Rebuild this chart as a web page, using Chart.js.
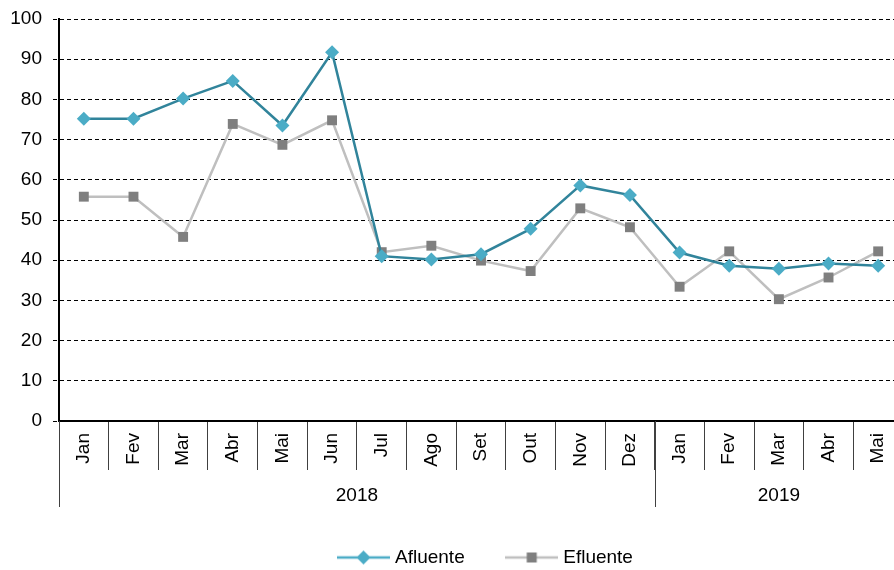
<!DOCTYPE html>
<html lang="pt-BR">
<head>
<meta charset="utf-8">
<title>Afluente x Efluente</title>
<script src="https://cdn.jsdelivr.net/npm/chart.js@4/dist/chart.umd.min.js"></script>
<style>
    html, body { margin: 0; padding: 0; background: #ffffff; overflow: hidden; }
    #wrap { width: 894px; height: 570px; overflow: hidden; position: relative; }
    #grafico { position: absolute; left: 0; top: 0; }
</style>
</head>
<body>
<div id="wrap">
    <canvas id="grafico" width="910" height="577"></canvas>
</div>
<script>
(function() {
    'use strict';

    // Meses (jan/2018 a mai/2019)
    var meses = ['Jan', 'Fev', 'Mar', 'Abr', 'Mai', 'Jun', 'Jul', 'Ago', 'Set', 'Out', 'Nov', 'Dez',
                 'Jan', 'Fev', 'Mar', 'Abr', 'Mai'];

    // Agrupamento por ano
    var anos = ['2018', '2019'];
    var mesesPorAno = [12, 5];

    var afluente = [75.2, 75.2, 80.2, 84.6, 73.5, 91.7, 41.0, 40.2, 41.5, 47.8, 58.6, 56.2,
                    41.9, 38.6, 37.9, 39.2, 38.6];
    var efluente = [55.8, 55.8, 45.8, 73.9, 68.7, 74.8, 42.0, 43.6, 39.9, 37.3, 52.9, 48.2,
                    33.4, 42.2, 30.3, 35.7, 42.2];

    var yTicks = { min: 0, max: 100, step: 10 };

    var corAfluenteLinha = '#31849b';
    var corAfluentePonto = '#4bacc6';
    var corEfluenteLinha = '#bfbfbf';
    var corEfluentePonto = '#7f7f7f';

    var fonte = '"Liberation Sans", Arial, sans-serif';
    var tamFonte = 19;

    // Início (x) da primeira amostra da legenda
    var legendaInicioX = 341.5;

    Chart.defaults.font.family = fonte;
    Chart.defaults.font.size = tamFonte;
    Chart.defaults.color = '#000000';

    /**
     * Desenha a amostra da legenda (linha com o marcador no meio)
     */
    function amostraLegenda(corLinha, corPonto, estilo) {
        var c = document.createElement('canvas');
        c.width = 53;
        c.height = 18;
        var ctx = c.getContext('2d');
        ctx.strokeStyle = corLinha;
        ctx.lineWidth = 2.5;
        ctx.beginPath();
        ctx.moveTo(0, 9);
        ctx.lineTo(53, 9);
        ctx.stroke();
        ctx.fillStyle = corPonto;
        if (estilo === 'rectRot') {
            ctx.beginPath();
            ctx.moveTo(26.5, 2);
            ctx.lineTo(33.5, 9);
            ctx.lineTo(26.5, 16);
            ctx.lineTo(19.5, 9);
            ctx.closePath();
            ctx.fill();
        } else {
            ctx.fillRect(21.5, 4, 10, 10);
        }
        return c;
    }

    var amostras = [
        amostraLegenda(corAfluentePonto, corAfluentePonto, 'rectRot'),
        amostraLegenda(corEfluenteLinha, corEfluentePonto, 'rect')
    ];

    // Rótulos dos anos e linhas separadoras abaixo do eixo X
    var gruposAnos = {
        id: 'gruposAnos',
        afterDraw: function(chart) {
            var x = chart.scales.x;
            var ctx = chart.ctx;
            var meia = (x.getPixelForValue(1) - x.getPixelForValue(0)) / 2;
            var yTopo = x.top;
            var yFim = x.top + 86;
            var inicio = 0;
            ctx.save();
            ctx.strokeStyle = '#404040';
            ctx.lineWidth = 1;
            ctx.fillStyle = '#000000';
            ctx.font = tamFonte + 'px ' + fonte;
            ctx.textAlign = 'center';
            ctx.textBaseline = 'middle';
            for (var g = 0; g < anos.length; g++) {
                var xIni = x.getPixelForValue(inicio) - meia;
                var xFim = x.getPixelForValue(inicio + mesesPorAno[g] - 1) + meia;
                ctx.beginPath();
                ctx.moveTo(Math.round(xIni) + 0.5, yTopo);
                ctx.lineTo(Math.round(xIni) + 0.5, yFim);
                ctx.stroke();
                ctx.fillText(anos[g], (xIni + xFim) / 2, x.top + 75);
                inicio += mesesPorAno[g];
            }
            ctx.restore();
        }
    };

    // Desloca a legenda para a posição usada no relatório
    var ajusteLegenda = {
        id: 'ajusteLegenda',
        afterLayout: function(chart) {
            var lg = chart.legend;
            if (!lg || !lg.lineWidths) return;
            var pad = lg.options.labels.padding;
            var inicio = (lg.left + pad + lg.right - lg.lineWidths[0]) / 2;
            var dx = legendaInicioX - inicio;
            lg.left += dx;
            lg.right += dx;
        }
    };

    var ctx = document.getElementById('grafico').getContext('2d');
    new Chart(ctx, {
        type: 'line',
        data: {
            labels: meses,
            datasets: [{
                label: 'Afluente',
                data: afluente,
                borderColor: corAfluenteLinha,
                backgroundColor: corAfluentePonto,
                borderWidth: 2.5,
                pointStyle: 'rectRot',
                pointRadius: 7,
                pointBorderWidth: 0,
                pointBackgroundColor: corAfluentePonto,
                tension: 0,
                order: 1
            }, {
                label: 'Efluente',
                data: efluente,
                borderColor: corEfluenteLinha,
                backgroundColor: corEfluentePonto,
                borderWidth: 2.5,
                pointStyle: 'rect',
                pointRadius: 7,
                pointBorderWidth: 0,
                pointBackgroundColor: corEfluentePonto,
                tension: 0,
                order: 2
            }]
        },
        options: {
            responsive: false,
            animation: false,
            devicePixelRatio: 1,
            layout: {
                padding: { top: 19, left: 0, right: 0, bottom: 0 }
            },
            plugins: {
                legend: {
                    position: 'bottom',
                    labels: {
                        usePointStyle: true,
                        pointStyleWidth: 44,
                        padding: 45,
                        color: '#000000',
                        font: { size: tamFonte },
                        generateLabels: function(chart) {
                            var itens = Chart.defaults.plugins.legend.labels.generateLabels(chart);
                            itens.forEach(function(item) {
                                item.pointStyle = amostras[item.datasetIndex];
                            });
                            return itens;
                        }
                    }
                },
                tooltip: { enabled: false }
            },
            scales: {
                x: {
                    type: 'category',
                    offset: true,
                    afterFit: function(scale) { scale.height = 82; },
                    grid: {
                        offset: true,
                        drawOnChartArea: false,
                        drawTicks: true,
                        tickLength: 49,
                        color: '#404040',
                        lineWidth: 1
                    },
                    border: { display: true, color: '#000000', width: 2 },
                    ticks: {
                        autoSkip: false,
                        minRotation: 90,
                        maxRotation: 90,
                        padding: -37,
                        color: '#000000',
                        font: { size: tamFonte }
                    }
                },
                y: {
                    min: yTicks.min,
                    max: yTicks.max,
                    afterFit: function(scale) {
                        scale.width = 59;
                        scale.paddingTop = 0;
                        scale.paddingBottom = 0;
                    },
                    grid: {
                        color: '#000000',
                        lineWidth: 1,
                        tickLength: 6,
                        tickBorderDash: [4, 3]
                    },
                    border: { display: true, color: '#000000', width: 2, dash: [4, 3] },
                    ticks: {
                        stepSize: yTicks.step,
                        padding: 11,
                        color: '#000000',
                        font: { size: tamFonte }
                    }
                }
            }
        },
        plugins: [gruposAnos, ajusteLegenda]
    });
})();
</script>
</body>
</html>
